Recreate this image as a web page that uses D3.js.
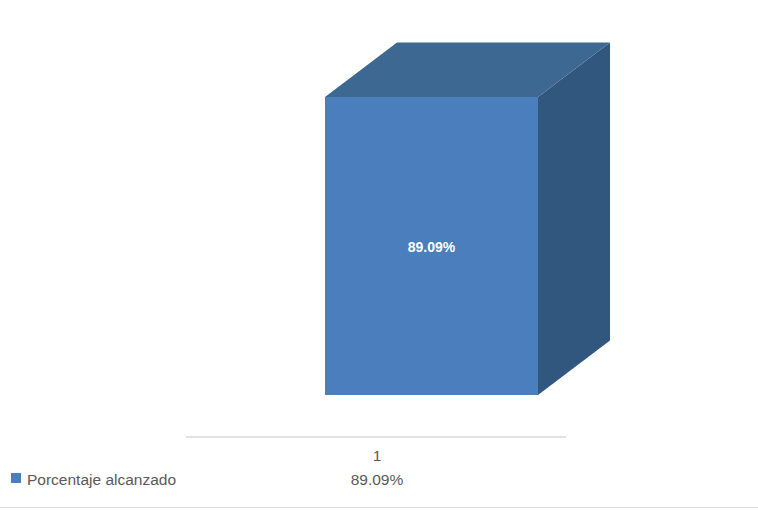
<!DOCTYPE html>
<html><head><meta charset="utf-8">
<script src="https://cdn.jsdelivr.net/npm/d3@7"></script>
<style>body{margin:0;background:#fff;}svg{display:block;}</style>
</head><body>
<script>
const categories = ["1"];
const seriesName = "Porcentaje alcanzado";
const values = [89.09];
const valueLabels = ["89.09%"];

const W = 758, H = 512;
const svg = d3.select("body").append("svg").attr("width", W).attr("height", H);
const font = "'Liberation Sans', Arial, sans-serif";

const x = d3.scaleBand().domain(categories).range([186, 566]);
const y = d3.scaleLinear().domain([0, 100]).range([395, 60.5]);
const depthX = 72, depthY = -54.5;
const bw = x.bandwidth();

categories.forEach((c, i) => {
  const x0 = x(c) + bw * (139 / 380);
  const x1 = x0 + bw * (213 / 380);
  const y0 = y(0), y1 = y(values[i]);
  const g = svg.append("g");
  g.append("path").attr("d", d3.line()([[x1, y1], [x1 + depthX, y1 + depthY], [x1 + depthX, y0 + depthY], [x1, y0]]))
    .attr("fill", "#31577e");
  g.append("path").attr("d", d3.line()([[x0, y1], [x0 + depthX, y1 + depthY], [x1 + depthX, y1 + depthY], [x1, y1]]))
    .attr("fill", "#3d6891");
  g.append("rect").attr("x", x0).attr("y", y1).attr("width", x1 - x0).attr("height", y0 - y1)
    .attr("fill", "#4a7ebc");
  g.append("text").attr("x", (x0 + x1) / 2).attr("y", (y0 + y1) / 2 + 2)
    .attr("text-anchor", "middle").attr("dominant-baseline", "middle")
    .attr("font-family", font).attr("font-weight", "bold").attr("font-size", 14)
    .attr("fill", "#ffffff").text(valueLabels[i]);
});

svg.append("line").attr("x1", 186).attr("x2", 566).attr("y1", 437).attr("y2", 437)
  .attr("stroke", "#d9d9d9").attr("stroke-width", 1.5);
svg.append("line").attr("x1", 0).attr("x2", W).attr("y1", 507.5).attr("y2", 507.5)
  .attr("stroke", "#d9d9d9").attr("stroke-width", 1);

categories.forEach((c, i) => {
  svg.append("text").attr("x", x(c) + bw / 2 + 1).attr("y", 461)
    .attr("text-anchor", "middle").attr("font-family", font).attr("font-size", 15.5)
    .attr("fill", "#595959").text(c);
  svg.append("text").attr("x", x(c) + bw / 2 + 1).attr("y", 485)
    .attr("text-anchor", "middle").attr("font-family", font).attr("font-size", 15.5)
    .attr("fill", "#595959").text(valueLabels[i]);
});

svg.append("rect").attr("x", 11).attr("y", 473).attr("width", 10).attr("height", 10).attr("fill", "#4a7ebc");
svg.append("text").attr("x", 27).attr("y", 485).attr("font-family", font).attr("font-size", 15.5)
  .attr("fill", "#595959").text(seriesName);
</script>
</body></html>
